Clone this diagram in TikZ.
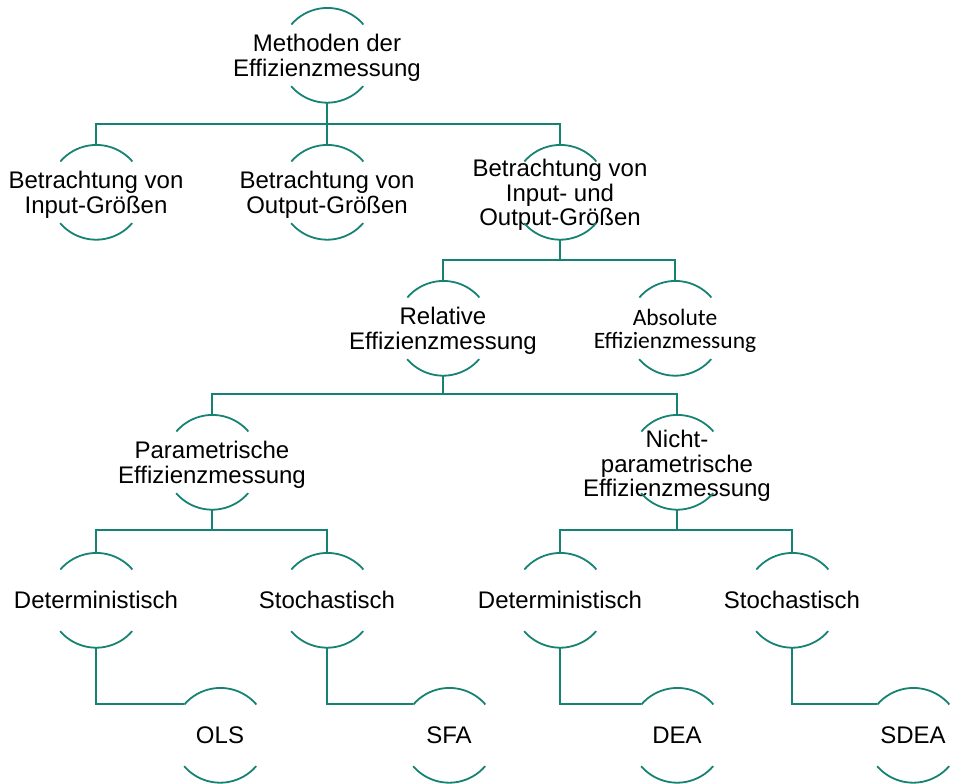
\documentclass[tikz,border=0pt]{standalone}
\usepackage{fontspec}
\setmainfont{Liberation Sans}
\newfontfamily\calibfont{Carlito}
\definecolor{ringcol}{RGB}{22,130,115}
\newcommand\ringarcs[1]{%
  \draw[conn] (#1.40.7) arc[start angle=40.7, end angle=139.3, radius=47.5pt];
  \draw[conn] (#1.-139.3) arc[start angle=-139.3, end angle=-40.7, radius=47.5pt];}
\begin{document}
\begin{tikzpicture}[x=1pt,y=1pt,
  ring/.style={circle, minimum size=95pt, inner sep=0pt, outer sep=0pt},
  txt/.style={align=center, font=\fontsize{24}{24.5}\selectfont, inner sep=0pt, text=black},
  txtm/.style={txt, yshift=-3pt},
  txtc/.style={align=center, font=\calibfont\fontsize{23.5}{23.5}\selectfont, inner sep=0pt, text=black, yshift=-3pt},
  conn/.style={draw=ringcol, line width=1.8pt},
]
\useasboundingbox (0,0) rectangle (953,-784);
\coordinate (bus1) at (0,-124);
\coordinate (bus2) at (0,-260);
\coordinate (bus3) at (0,-394);
\coordinate (bus4) at (0,-530);

\node[ring, label={[txtm]center:{Methoden der\\Effizienzmessung}}] (t) at (327,-55) {};
\node[ring, label={[txtm]center:{Betrachtung von\\Input-Größen}}] (a1) at (96,-192) {};
\node[ring, label={[txtm]center:{Betrachtung von\\Output-Größen}}] (a2) at (327,-192) {};
\node[ring, label={[txtm]center:{Betrachtung von\\Input- und\\Output-Größen}}] (a3) at (560,-192) {};
\node[ring, label={[txtm]center:{Relative\\Effizienzmessung}}] (b1) at (443,-328) {};
\node[ring, label={[txtc]center:{Absolute\\Effizienzmessung}}] (b2) at (675,-328) {};
\node[ring, label={[txtm]center:{Parametrische\\Effizienzmessung}}] (c1) at (212,-462) {};
\node[ring, label={[txtm, yshift=-1pt]center:{Nicht-\\parametrische\\Effizienzmessung}}] (c2) at (677,-462) {};
\node[ring, label={[txt]center:{Deterministisch}}] (d1) at (96,-600) {};
\node[ring, label={[txt]center:{Stochastisch}}] (d2) at (327,-600) {};
\node[ring, label={[txt]center:{Deterministisch}}] (d3) at (560,-600) {};
\node[ring, label={[txt]center:{Stochastisch}}] (d4) at (792,-600) {};
\node[ring, label={[txt]center:{OLS}}] (e1) at (220,-735) {};
\node[ring, label={[txt]center:{SFA}}] (e2) at (449,-735) {};
\node[ring, label={[txt]center:{DEA}}] (e3) at (677,-735) {};
\node[ring, label={[txt]center:{SDEA}}] (e4) at (913,-735) {};

\foreach \n in {t,a1,a2,a3,b1,b2,c1,c2,d1,d2,d3,d4,e1,e2,e3,e4} {\ringarcs{\n}}

\foreach \c in {a1,a2,a3} {\draw[conn] (t.south) -- (t.south |- bus1) -| (\c.north);}
\foreach \c in {b1,b2} {\draw[conn] (a3.south) -- (a3.south |- bus2) -| (\c.north);}
\foreach \c in {c1,c2} {\draw[conn] (b1.south) -- (b1.south |- bus3) -| (\c.north);}
\foreach \c in {d1,d2} {\draw[conn] (c1.south) -- (c1.south |- bus4) -| (\c.north);}
\foreach \c in {d3,d4} {\draw[conn] (c2.south) -- (c2.south |- bus4) -| (\c.north);}
\draw[conn] (d1.south) |- (e1.139.3);
\draw[conn] (d2.south) |- (e2.139.3);
\draw[conn] (d3.south) |- (e3.139.3);
\draw[conn] (d4.south) |- (e4.139.3);
\end{tikzpicture}
\end{document}
